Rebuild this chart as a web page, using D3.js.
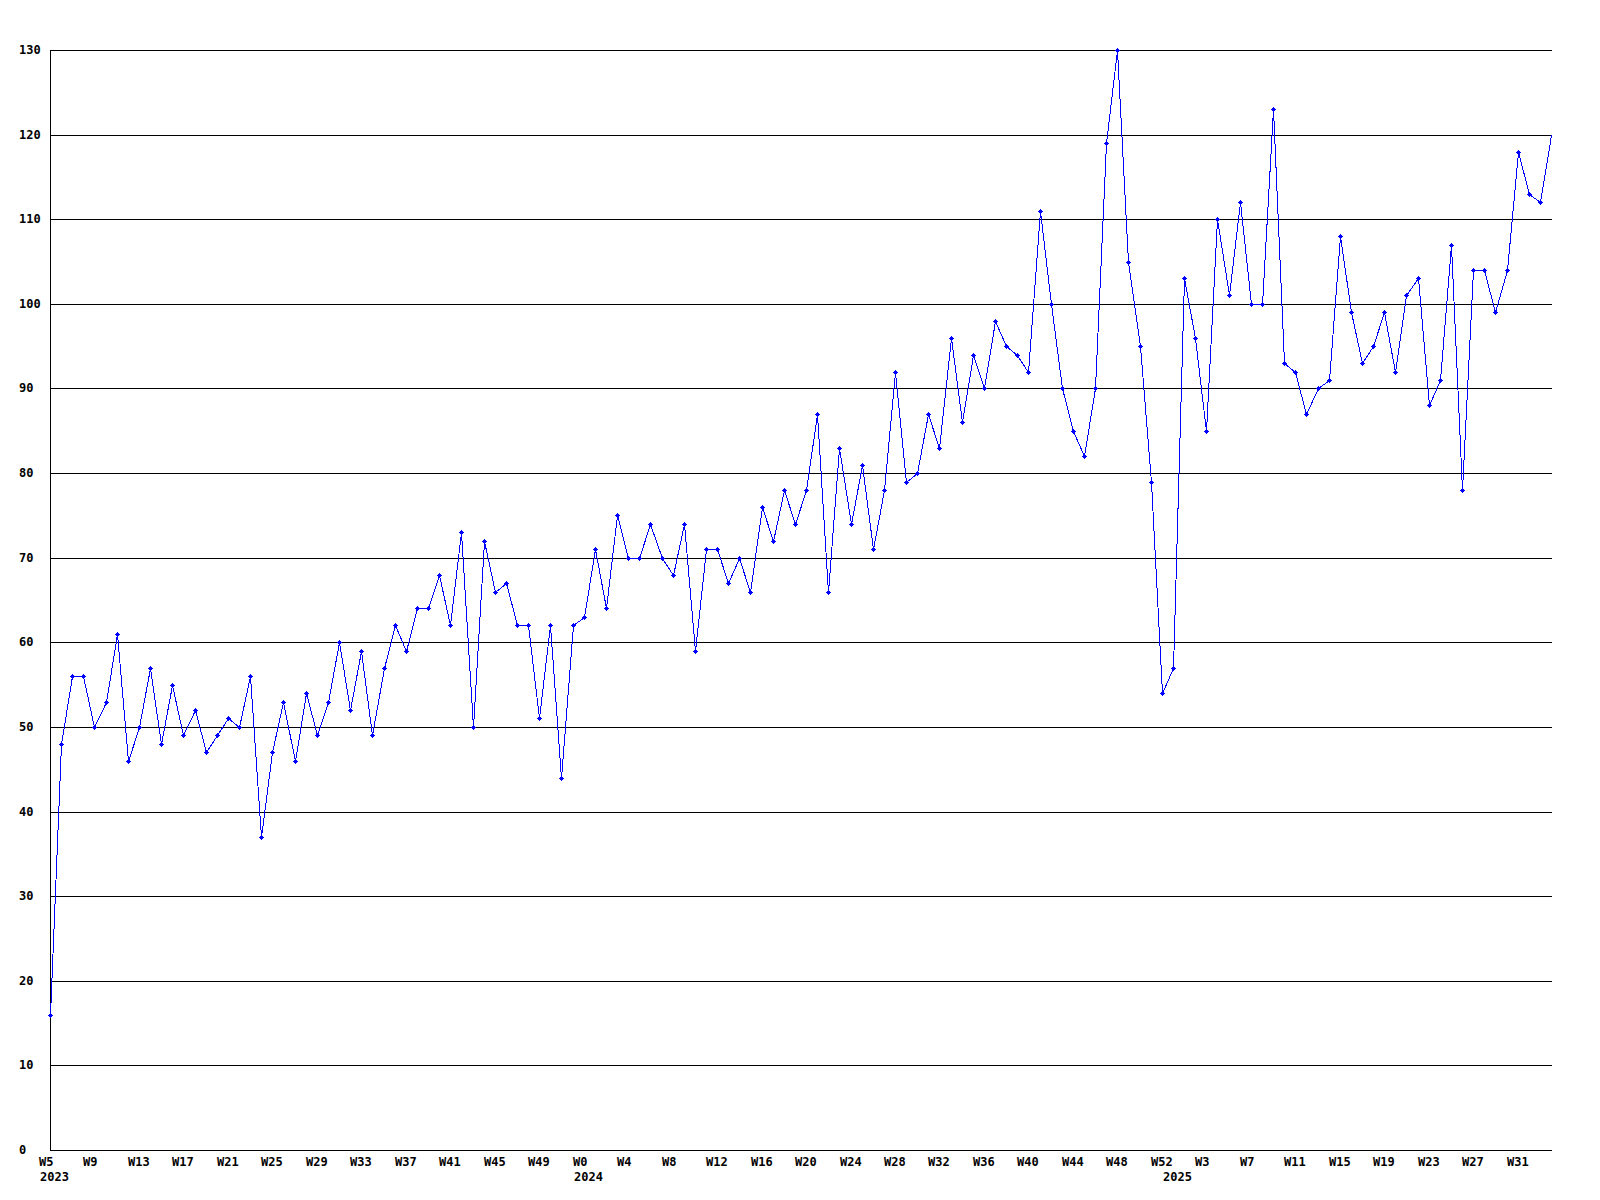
<!DOCTYPE html>
<html>
<head>
<meta charset="utf-8">
<script src="https://cdn.jsdelivr.net/npm/d3@7/dist/d3.min.js"></script>
<style>
  html, body { margin: 0; padding: 0; background: #ffffff; }
  svg { display: block; }
  text { font-family: "DejaVu Sans Mono", "Liberation Mono", monospace; font-weight: bold; font-size: 12px; fill: #000; }
</style>
</head>
<body>
<svg id="chart" width="1600" height="1200"></svg>
<script>
// ---- data ----
const years = [2023, 2024, 2025];
const firstWeeks = [5, 0, 0];
const values2023 = [16, 48, 56, 56, 50, 53, 61, 46, 50, 57, 48, 55, 49, 52, 47, 49, 51, 50, 56, 37,
  47, 53, 46, 54, 49, 53, 60, 52, 59, 49, 57, 62, 59, 64, 64, 68, 62, 73, 50, 72,
  66, 67, 62, 62, 51, 62, 44, 62];
const values2024 = [63, 71, 64, 75, 70, 70, 74, 70, 68, 74, 59, 71, 71, 67, 70, 66, 76, 72, 78, 74,
  78, 87, 66, 83, 74, 81, 71, 78, 92, 79, 80, 87, 83, 96, 86, 94, 90, 98, 95, 94,
  92, 111, 100, 90, 85, 82, 90, 119, 130, 105, 95, 79, 54];
const values2025 = [57, 103, 96, 85, 110, 101, 112, 100, 100, 123, 93, 92, 87, 90, 91, 108, 99, 93, 95, 99,
  92, 101, 103, 88, 91, 107, 78, 104, 104, 99, 104, 118, 113, 112, 120];
const yTickValues = [0, 10, 20, 30, 40, 50, 60, 70, 80, 90, 100, 110, 120, 130];
const xTickEvery = 4;

(function () {
  // ---- build point table ----
  const seriesByYear = [values2023, values2024, values2025];
  const points = [];
  seriesByYear.forEach((vals, yi) => {
    vals.forEach((v, i) => {
      points.push({ year: years[yi], week: firstWeeks[yi] + i, value: v, firstOfYear: i === 0 });
    });
  });
  const N = points.length;

  // ---- layout ----
  const mLeft = 50, mRight = 1551, mTop = 50, mBottom = 1150;
  const svg = d3.select("#chart");
  svg.append("rect").attr("width", 1600).attr("height", 1200).attr("fill", "#fff");

  const x = d3.scaleLinear().domain([0, N - 1]).range([mLeft, mRight]);
  const y = d3.scaleLinear().domain([0, 130]).range([mBottom, mTop]);
  const px = v => Math.round(v) + 0.5;

  // grid lines
  svg.append("g").selectAll("line").data(yTickValues).join("line")
    .attr("x1", mLeft).attr("x2", mRight + 0.5)
    .attr("y1", d => px(y(d))).attr("y2", d => px(y(d)))
    .attr("stroke", "#000").attr("stroke-width", 1)
    .attr("shape-rendering", "crispEdges");

  // left axis
  svg.append("line")
    .attr("x1", px(mLeft)).attr("x2", px(mLeft))
    .attr("y1", px(y(130))).attr("y2", px(y(0)))
    .attr("stroke", "#000").attr("stroke-width", 1)
    .attr("shape-rendering", "crispEdges");

  // y labels
  svg.append("g").selectAll("text").data(yTickValues).join("text")
    .attr("x", 19)
    .attr("y", d => Math.round(y(d)) + 4)
    .text(d => d);

  // x labels
  const tickPts = points.map((p, i) => ({ p, i })).filter(d => d.i % xTickEvery === 0);
  svg.append("g").selectAll("text").data(tickPts).join("text")
    .attr("x", d => Math.round(x(d.i)) - 11)
    .attr("y", 1166)
    .text(d => "W" + d.p.week);

  const yearPts = points.map((p, i) => ({ p, i })).filter(d => d.p.firstOfYear);
  svg.append("g").selectAll("text").data(yearPts).join("text")
    .attr("x", d => Math.round(x(d.i)) - 10)
    .attr("y", 1181)
    .text(d => d.p.year);

  // line
  const line = d3.line().x((d, i) => Math.round(x(i)) + 0.5).y(d => Math.round(y(d.value)) + 0.5);
  svg.append("path").datum(points)
    .attr("d", line)
    .attr("fill", "none")
    .attr("stroke", "#0000ff")
    .attr("stroke-width", 1)
    .attr("shape-rendering", "crispEdges");

  // markers (small diamond/cross)
  const marker = "M-0.5,-2.5h1v1h1v1h1v1h-1v1h-1v1h-1v-1h-1v-1h-1v-1h1v-1h1z";
  svg.append("g").selectAll("path").data(points.slice(0, N - 1)).join("path")
    .attr("transform", (d, i) => `translate(${Math.round(x(i)) + 0.5},${Math.round(y(d.value)) + 0.5})`)
    .attr("d", marker)
    .attr("fill", "#0000ff")
    .attr("shape-rendering", "crispEdges");
})();
</script>
</body>
</html>
